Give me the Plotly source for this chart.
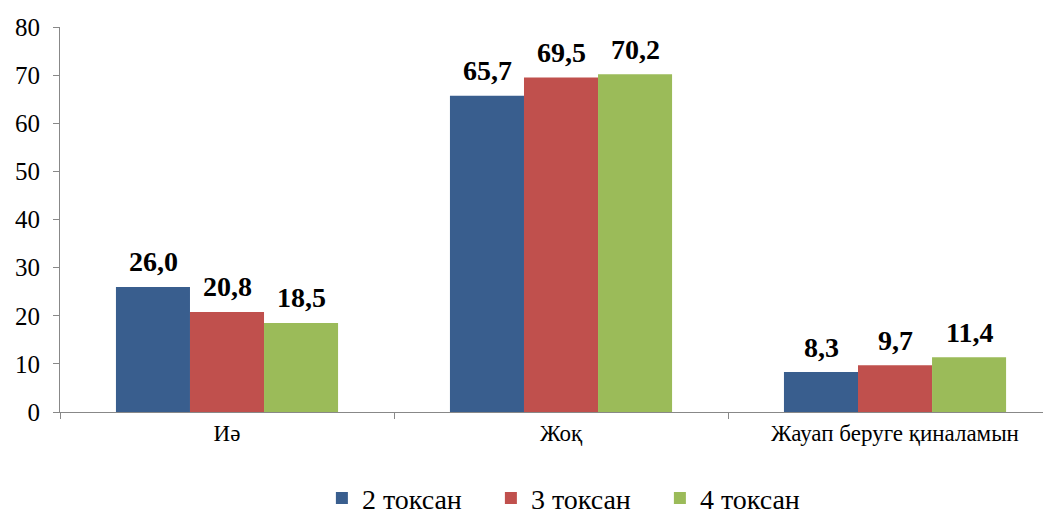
import plotly.graph_objects as go

categories = ["Иә", "Жоқ", "Жауап беруге қиналамын"]
series_names = ["2 токсан", "3 токсан", "4 токсан"]
values_q2 = [26.0, 65.7, 8.3]
values_q3 = [20.8, 69.5, 9.7]
values_q4 = [18.5, 70.2, 11.4]
colors = ["#395E8E", "#C0504D", "#9BBB59"]

FONT = "Liberation Serif"
BAR_PX = 74  # pixel offset of bars within a group for the value labels

fig = go.Figure()
all_vals = [values_q2, values_q3, values_q4]
for name, vals, col in zip(series_names, all_vals, colors):
    fig.add_trace(go.Bar(
        x=categories, y=vals, name=name,
        marker=dict(color=col, line=dict(width=0)),
        cliponaxis=False,
    ))

annotations = []
for i, vals in enumerate(all_vals):
    for cat, v in zip(categories, vals):
        annotations.append(dict(
            x=cat, y=v, xref="x", yref="y",
            text=f"{v:.1f}".replace(".", ","),
            showarrow=False, xshift=(i - 1) * BAR_PX, yshift=25,
            yanchor="middle", xanchor="center",
            font=dict(family=FONT, size=28, color="black", weight="bold"),
        ))

fig.update_layout(
    width=1043, height=508,
    margin=dict(l=52, r=0, t=19, b=104, autoexpand=False),
    paper_bgcolor="white", plot_bgcolor="white",
    barmode="group", bargap=0.335, bargroupgap=0,
    font=dict(family=FONT, color="black"),
    showlegend=True,
    annotations=annotations,
    legend=dict(orientation="h", xref="container", yref="container",
                x=0.544, y=0.035, xanchor="center", yanchor="middle",
                font=dict(family=FONT, size=28, color="black"), itemwidth=30,
                entrywidth=124, entrywidthmode="pixels"),
    xaxis=dict(range=[-0.5, 2.467], showline=True, linecolor="#888888", linewidth=1,
               ticks="outside", tickson="boundaries", ticklen=6, tickcolor="#888888",
               tickfont=dict(family=FONT, size=23, color="black"), showgrid=False),
    yaxis=dict(range=[0, 80], dtick=10, showline=True, linecolor="#888888", linewidth=1,
               ticks="outside", ticklen=6, tickcolor="#888888", ticklabelstandoff=8,
               tickfont=dict(family=FONT, size=25, color="black"), showgrid=False, zeroline=False),
)

fig.write_html("out.html")
